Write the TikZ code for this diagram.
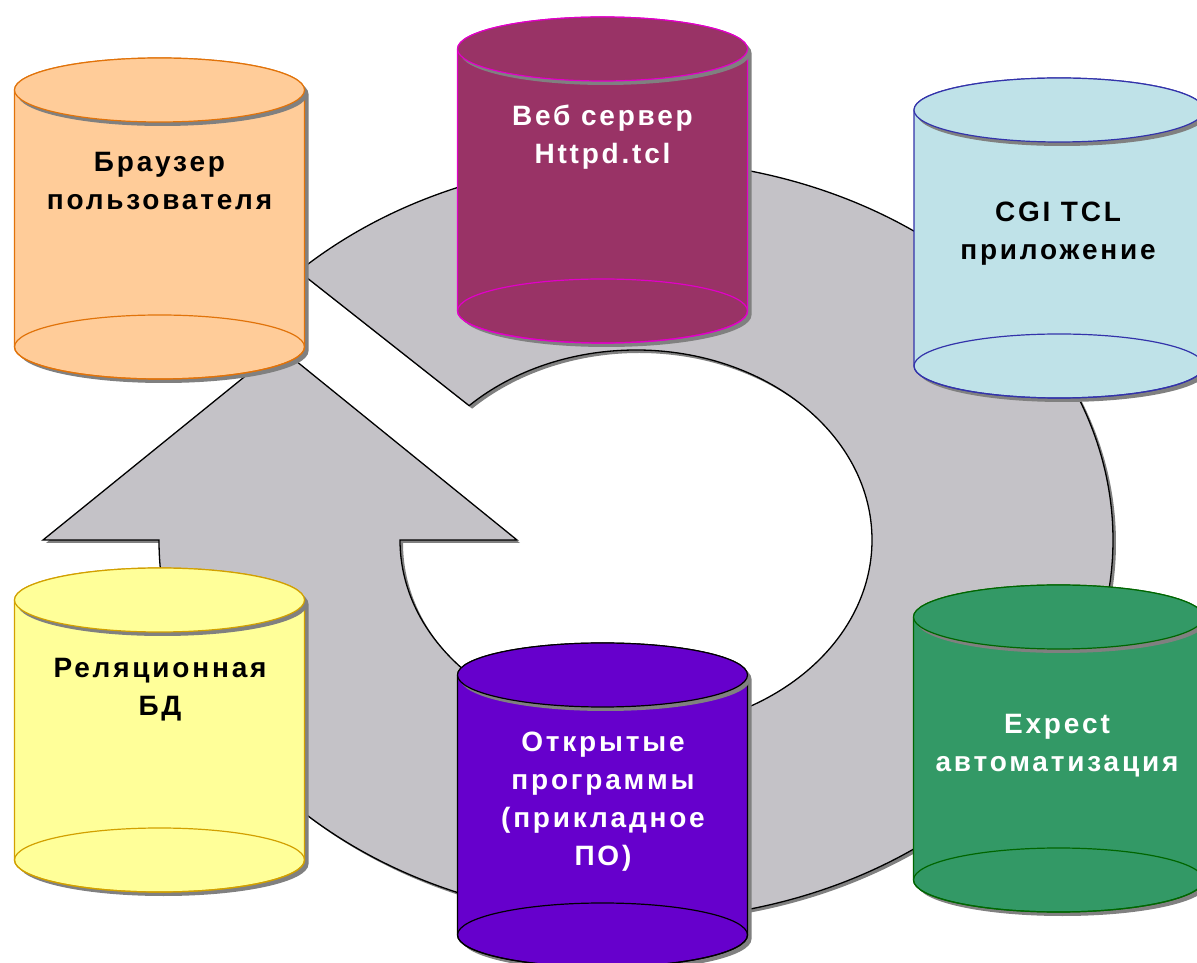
\documentclass[tikz,border=0pt]{standalone}
\usepackage{fontspec}
\setmainfont{Liberation Sans}[LetterSpace=10]
\usepackage{tikz}

\definecolor{ringgray}{RGB}{196,194,199}
\definecolor{shadegray}{RGB}{128,128,128}
\definecolor{peachfill}{RGB}{255,204,153}
\definecolor{peachline}{RGB}{225,115,10}
\definecolor{plumfill}{RGB}{153,51,102}
\definecolor{plumline}{RGB}{225,0,200}
\definecolor{icefill}{RGB}{191,226,232}
\definecolor{iceline}{RGB}{51,51,170}
\definecolor{lemonfill}{RGB}{255,255,153}
\definecolor{lemonline}{RGB}{210,160,0}
\definecolor{violetfill}{RGB}{102,0,204}
\definecolor{violetline}{RGB}{0,0,0}
\definecolor{jadefill}{RGB}{51,153,102}
\definecolor{jadeline}{RGB}{0,102,0}

% cylinder: #1 = centre x, #2 = top y, #3 = bottom y, #4 = fill, #5 = line
\newcommand{\drawcyl}[5]{%
  \fill[shadegray] ({#1-141},{#2-4}) -- ({#1-141},{#3-4})
    arc[start angle=180, end angle=360, x radius=145, y radius=32]
    -- ({#1+149},{#2-4})
    arc[start angle=0, end angle=180, x radius=145, y radius=32] -- cycle;
  \filldraw[fill=#4, draw=#5] ({#1-145},#2) -- ({#1-145},#3)
    arc[start angle=180, end angle=360, x radius=145, y radius=32]
    -- ({#1+145},#2)
    arc[start angle=0, end angle=180, x radius=145, y radius=32] -- cycle;
  \draw[#5] (#1,#3) ellipse[x radius=145, y radius=32];
  \fill[shadegray] ({#1+3},{#2-4}) ellipse[x radius=145, y radius=32];
  \filldraw[fill=#4, draw=#5] (#1,#2) ellipse[x radius=145, y radius=32];
}

\tikzset{
  lbl/.style={font=\fontsize{28}{38}\selectfont\bfseries, align=center, inner sep=0pt},
}

\begin{document}
\begin{tikzpicture}[x=1pt, y=1pt, line width=1.2pt]
    \useasboundingbox (0,0) rectangle (1197,962);
    \fill[white] (0,0) rectangle (1197,962);
    \clip (0,0) rectangle (1197,962);

    % circular arrow - shadow, then grey body
    \fill[shadegray, shift={(3,-3)}] (298.7,690.7)
        arc[start angle=135, end angle=-180, x radius=477, y radius=380]
        -- (43,422) -- (280,614) -- (517,422) -- (400,422)
        arc[start angle=180, end angle=495, x radius=236, y radius=190] -- cycle;
    \filldraw[fill=ringgray, draw=black, line width=1.3pt] (298.7,690.7)
        arc[start angle=135, end angle=-180, x radius=477, y radius=380]
        -- (43,422) -- (280,614) -- (517,422) -- (400,422)
        arc[start angle=180, end angle=495, x radius=236, y radius=190] -- cycle;

    % cylinders
    \drawcyl{159.5}{872}{615}{peachfill}{peachline}
    \drawcyl{602.5}{913}{651}{plumfill}{plumline}
    \drawcyl{1059}{852}{596}{icefill}{iceline}
    \drawcyl{159.5}{362}{102}{lemonfill}{lemonline}
    \drawcyl{602.5}{287}{27}{violetfill}{violetline}
    \drawcyl{1058.5}{345}{82}{jadefill}{jadeline}

    % labels
    \node[lbl] (browser) at (159.5,781) {Браузер\\пользователя};
    \node[lbl, text=white] (websrv) at (602.5,825) {Веб сервер\\Httpd.tcl};
    \node[lbl] (cgiapp) at (1058,728) {CGI TCL\\приложение};
    \node[lbl] (reldb) at (160,272) {Реляционная\\БД};
    \node[lbl, text=white] (opensw) at (603,160) {Открытые\\программы\\(прикладное\\ПО)};
    \node[lbl, text=white] (expect) at (1057,216) {Expect\\автоматизация};
\end{tikzpicture}
\end{document}
